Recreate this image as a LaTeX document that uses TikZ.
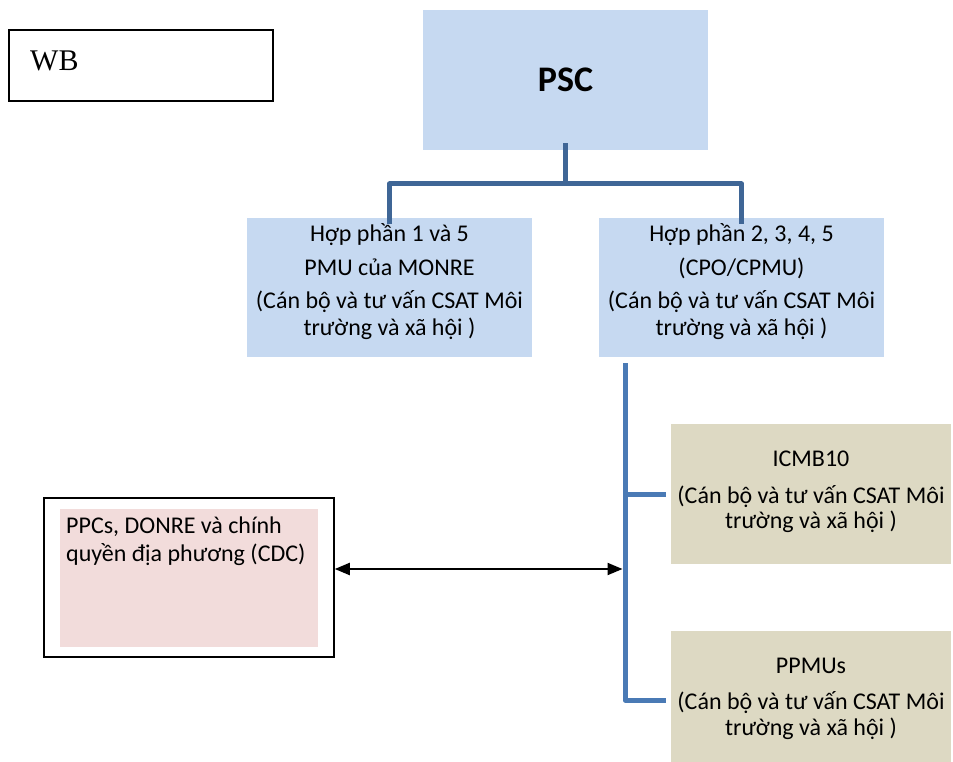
\documentclass[tikz,border=0pt]{standalone}
\usepackage{fontspec}
\setmainfont{Carlito}
\newfontfamily\wbfont{Liberation Serif}
\usetikzlibrary{arrows.meta}
\definecolor{lblue}{HTML}{C6D9F1}
\definecolor{ltan}{HTML}{DDD9C3}
\definecolor{lpink}{HTML}{F2DCDB}
\definecolor{connA}{HTML}{3F6696}
\definecolor{connB}{HTML}{4A7AB5}
\begin{document}
\begin{tikzpicture}[x=1pt,y=-1pt,
  bluebox/.style={fill=lblue,draw=none,minimum width=285pt,minimum height=139pt,inner sep=0pt},
  tanbox/.style={fill=ltan,draw=none,minimum width=280pt,inner sep=0pt},
  hptext/.style={anchor=base,inner sep=0pt,align=center,font=\fontsize{24}{26.5}\selectfont},
  tantext/.style={anchor=base,inner sep=0pt,align=center,font=\fontsize{24}{25.2}\selectfont},
  treeline/.style={draw=connA,line width=5pt,line join=round},
  vline/.style={draw=connB,line width=5pt,line join=round},
  dblarrow/.style={draw=black,line width=2pt,{Triangle[length=15pt,width=12pt]}-{Triangle[length=15pt,width=12pt]}}
]
\useasboundingbox (0,0) rectangle (953,762);
% WB
\node[draw=black,line width=1.5pt,minimum width=264pt,minimum height=71pt,inner sep=0pt] (wb) at (141,65.5) {};
\node[anchor=base west,inner sep=0pt,font=\wbfont\fontsize{30}{32}\selectfont] (wbt) at (30,70.7) {WB};
% PSC
\node[fill=lblue,minimum width=285pt,minimum height=140pt,inner sep=0pt,font=\fontsize{36}{40}\selectfont\bfseries] (psc) at (565.5,80) {PSC};
% component boxes
\node[bluebox] (hp1) at (389.5,287.5) {};
\node[hptext] (hp1t) at (389.5,335) {Hợp phần 1 và 5\\[6.8pt]PMU của MONRE\\[7pt](Cán bộ và tư vấn CSAT Môi\\trường và xã hội )};
\node[bluebox] (hp2) at (741.5,287.5) {};
\node[hptext] (hp2t) at (741.5,335) {Hợp phần 2, 3, 4, 5\\[6.8pt](CPO/CPMU)\\[7pt](Cán bộ và tư vấn CSAT Môi\\trường và xã hội )};
\node[tanbox,minimum height=140pt] (icmb) at (811,494) {};
\node[tantext] (icmbt) at (811,528.5) {ICMB10\\[11.5pt](Cán bộ và tư vấn CSAT Môi\\trường và xã hội )};
\node[tanbox,minimum height=131pt] (ppmu) at (811,696.5) {};
\node[tantext] (ppmut) at (811,735) {PPMUs\\[11.5pt](Cán bộ và tư vấn CSAT Môi\\trường và xã hội )};
% left box
\node[draw=black,line width=1.5pt,fill=white,minimum width=290pt,minimum height=159pt,inner sep=0pt] (cdcouter) at (189,577.5) {};
\node[fill=lpink,minimum width=258pt,minimum height=138pt,inner sep=0pt] (cdc) at (189,578) {};
\node[anchor=base west,inner sep=0pt,align=left,font=\fontsize{24}{28.7}\selectfont] (cdct) at (66,561.7) {PPCs, DONRE và chính\\quyền địa phương (CDC)};
% tree connectors
\coordinate (bus) at (565.5,184);
\draw[treeline] ([yshift=-6pt]hp1.north) |- (bus) -| ([yshift=-6pt]hp2.north);
\draw[treeline] ([yshift=7pt]psc.south) -- (psc.south |- bus);
% right vertical connector
\coordinate (vtop) at (625,363);
\coordinate (vbot) at (625,700);
\draw[vline] (vtop) -- (vbot) -- ([xshift=-5pt]ppmu.west |- vbot);
\draw[vline] (vtop |- icmb.west) -- ([xshift=-5pt]icmb.west);
% double arrow
\coordinate (arr) at (622.5,569);
\draw[dblarrow] (cdcouter.east |- arr) -- (arr);
\end{tikzpicture}
\end{document}
